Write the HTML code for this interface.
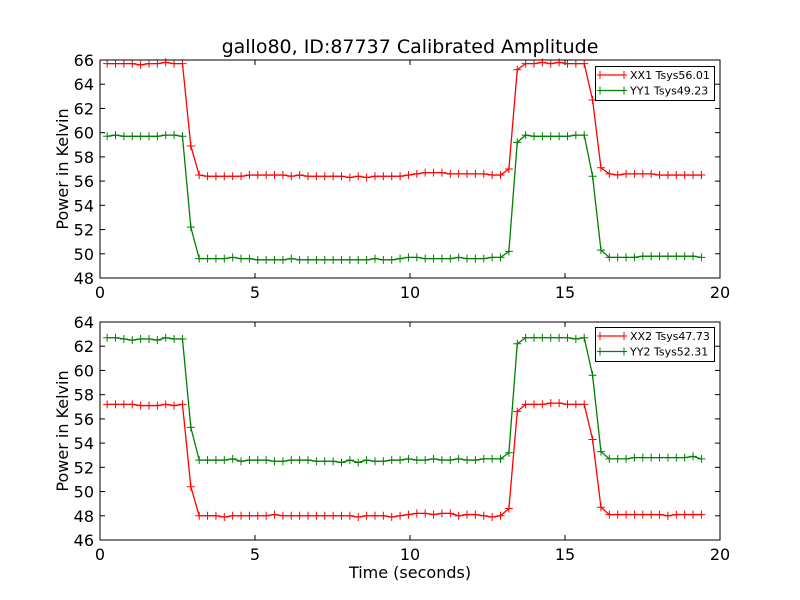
<!DOCTYPE html>
<html><head><meta charset="utf-8"><style>body{margin:0;background:#fff}svg{display:block;font-family:"DejaVu Sans","Liberation Sans",sans-serif}</style></head>
<body>
<svg id="c" width="800" height="600" viewBox="0 0 800 600">
<rect width="800" height="600" fill="#fff"/>
<text x="410" y="53" text-anchor="middle" font-size="19">gallo80, ID:87737 Calibrated Amplitude</text>
<text x="410" y="578" text-anchor="middle" font-size="16">Time (seconds)</text>
</svg>
<script>
const xTicks=[0,5,10,15,20];
const topYTicks=[48,50,52,54,56,58,60,62,64,66];
const botYTicks=[46,48,50,52,54,56,58,60,62,64];
const t0=0.23, dt=0.27;
const xx1=[65.7,65.7,65.7,65.7,65.6,65.7,65.7,65.8,65.7,65.7,58.9,
56.5,56.4,56.4,56.4,56.4,56.4,56.5,56.5,56.5,56.5,
56.5,56.4,56.5,56.4,56.4,56.4,56.4,56.4,56.3,56.4,
56.3,56.4,56.4,56.4,56.4,56.5,56.6,56.7,56.7,56.7,
56.6,56.6,56.6,56.6,56.6,56.5,56.5,
57.0,65.2,65.7,65.7,65.8,65.7,65.8,65.7,65.7,65.7,62.7,57.1,
56.6,56.5,56.6,56.6,56.6,56.6,56.5,56.5,56.5,56.5,56.5,56.5];
const yy1=[59.7,59.8,59.7,59.7,59.7,59.7,59.7,59.8,59.8,59.7,52.2,
49.6,49.6,49.6,49.6,49.7,49.6,49.6,49.5,49.5,49.5,
49.5,49.6,49.5,49.5,49.5,49.5,49.5,49.5,49.5,49.5,
49.5,49.6,49.5,49.5,49.6,49.7,49.7,49.6,49.6,49.6,
49.6,49.7,49.6,49.6,49.6,49.7,49.7,
50.2,59.2,59.8,59.7,59.7,59.7,59.7,59.7,59.8,59.8,56.4,50.3,
49.7,49.7,49.7,49.7,49.8,49.8,49.8,49.8,49.8,49.8,49.8,49.7];
const xx2=[57.2,57.2,57.2,57.2,57.1,57.1,57.1,57.2,57.1,57.2,50.4,
48.0,48.0,48.0,47.9,48.0,48.0,48.0,48.0,48.0,48.1,
48.0,48.0,48.0,48.0,48.0,48.0,48.0,48.0,48.0,47.9,
48.0,48.0,48.0,47.9,48.0,48.1,48.2,48.2,48.1,48.2,
48.2,48.0,48.1,48.1,48.0,47.9,48.0,
48.6,56.6,57.2,57.2,57.2,57.3,57.3,57.2,57.2,57.2,54.3,48.7,
48.1,48.1,48.1,48.1,48.1,48.1,48.1,48.0,48.1,48.1,48.1,48.1];
const yy2=[62.7,62.7,62.6,62.5,62.6,62.6,62.5,62.7,62.6,62.6,55.3,
52.6,52.6,52.6,52.6,52.7,52.5,52.6,52.6,52.6,52.5,
52.5,52.6,52.6,52.6,52.5,52.5,52.5,52.4,52.6,52.4,
52.6,52.5,52.5,52.6,52.6,52.7,52.6,52.6,52.7,52.6,
52.6,52.7,52.6,52.6,52.7,52.7,52.7,
53.2,62.2,62.7,62.7,62.7,62.7,62.7,62.7,62.6,62.7,59.6,53.3,
52.7,52.7,52.7,52.8,52.8,52.8,52.8,52.8,52.8,52.8,52.9,52.7];
const NS='http://www.w3.org/2000/svg';
const svg=document.getElementById('c');
function mk(tag,attrs,parent){const e=document.createElementNS(NS,tag);for(const k in attrs)e.setAttribute(k,attrs[k]);(parent||svg).appendChild(e);return e;}
function panel(key,top,bottom,ymin,ymax,yTicks,series,legendTop){
  const L=100,R=720;
  const xs=v=>L+(v-0)/(20-0)*(R-L);
  const ys=v=>bottom-(v-ymin)/(ymax-ymin)*(bottom-top);
  const g=mk('g',{});
  
  
  xTicks.forEach(v=>{
    const x=xs(v);
    mk('line',{x1:x,x2:x,y1:bottom,y2:bottom-5,stroke:'#000'},g);
    mk('line',{x1:x,x2:x,y1:top,y2:top+5,stroke:'#000'},g);
    const t=mk('text',{x:x,y:bottom+20,'text-anchor':'middle','font-size':16},g);
    t.textContent=v;
    
    
  });
  yTicks.forEach(v=>{
    const y=ys(v);
    mk('line',{x1:L,x2:L+5,y1:y,y2:y,stroke:'#000'},g);
    mk('line',{x1:R,x2:R-5,y1:y,y2:y,stroke:'#000'},g);
    const t=mk('text',{x:L-6,y:y+6,'text-anchor':'end','font-size':16},g);
    t.textContent=v;
    
    
  });
  const yt=mk('text',{x:0,y:0,'text-anchor':'middle','font-size':16,transform:`translate(68,${(top+bottom)/2}) rotate(-90)`},g);
  yt.textContent='Power in Kelvin';
  
  
  series.forEach(s=>{
    const sg=mk('g',{},g);
    
    
    const pts=s.data.map((v,i)=>[xs(t0+i*dt),ys(v)]);
    mk('polyline',{points:pts.map(p=>p.join(',')).join(' '),fill:'none',stroke:s.color,'stroke-width':1.3},sg);
    let d='';pts.forEach(p=>{d+=`M${p[0]-4},${p[1]}h8M${p[0]},${p[1]-4}v8`;});
    mk('path',{d:d,stroke:s.color,'stroke-width':1},sg);
  });
  mk('rect',{x:L,y:top,width:R-L,height:bottom-top,fill:'none',stroke:'#000','stroke-width':1},g);
  const lg=mk('g',{},g);
  
  
  mk('rect',{x:595.5,y:legendTop+0.5,width:119,height:34,fill:'#fff',stroke:'#000'},lg);
  series.forEach((s,i)=>{
    const y=legendTop+9+i*15.5;
    const e=mk('g',{},lg);
    
    
    mk('line',{x1:600,x2:624,y1:y,y2:y,stroke:s.color,'stroke-width':1.3},e);
    mk('path',{d:`M597,${y}h6M600,${y-4}v8M621,${y}h6M624,${y-4}v8`,stroke:s.color},e);
    const t=mk('text',{x:630,y:y+4,'font-size':11},e);
    t.textContent=s.label;
  });
}
panel('top',60,278,48,66,topYTicks,[{name:'XX1',label:'XX1 Tsys56.01',color:'#ff0000',data:xx1},{name:'YY1',label:'YY1 Tsys49.23',color:'#008000',data:yy1}],66);
panel('bottom',322,540,46,64,botYTicks,[{name:'XX2',label:'XX2 Tsys47.73',color:'#ff0000',data:xx2},{name:'YY2',label:'YY2 Tsys52.31',color:'#008000',data:yy2}],327);
</script>
</body></html>
